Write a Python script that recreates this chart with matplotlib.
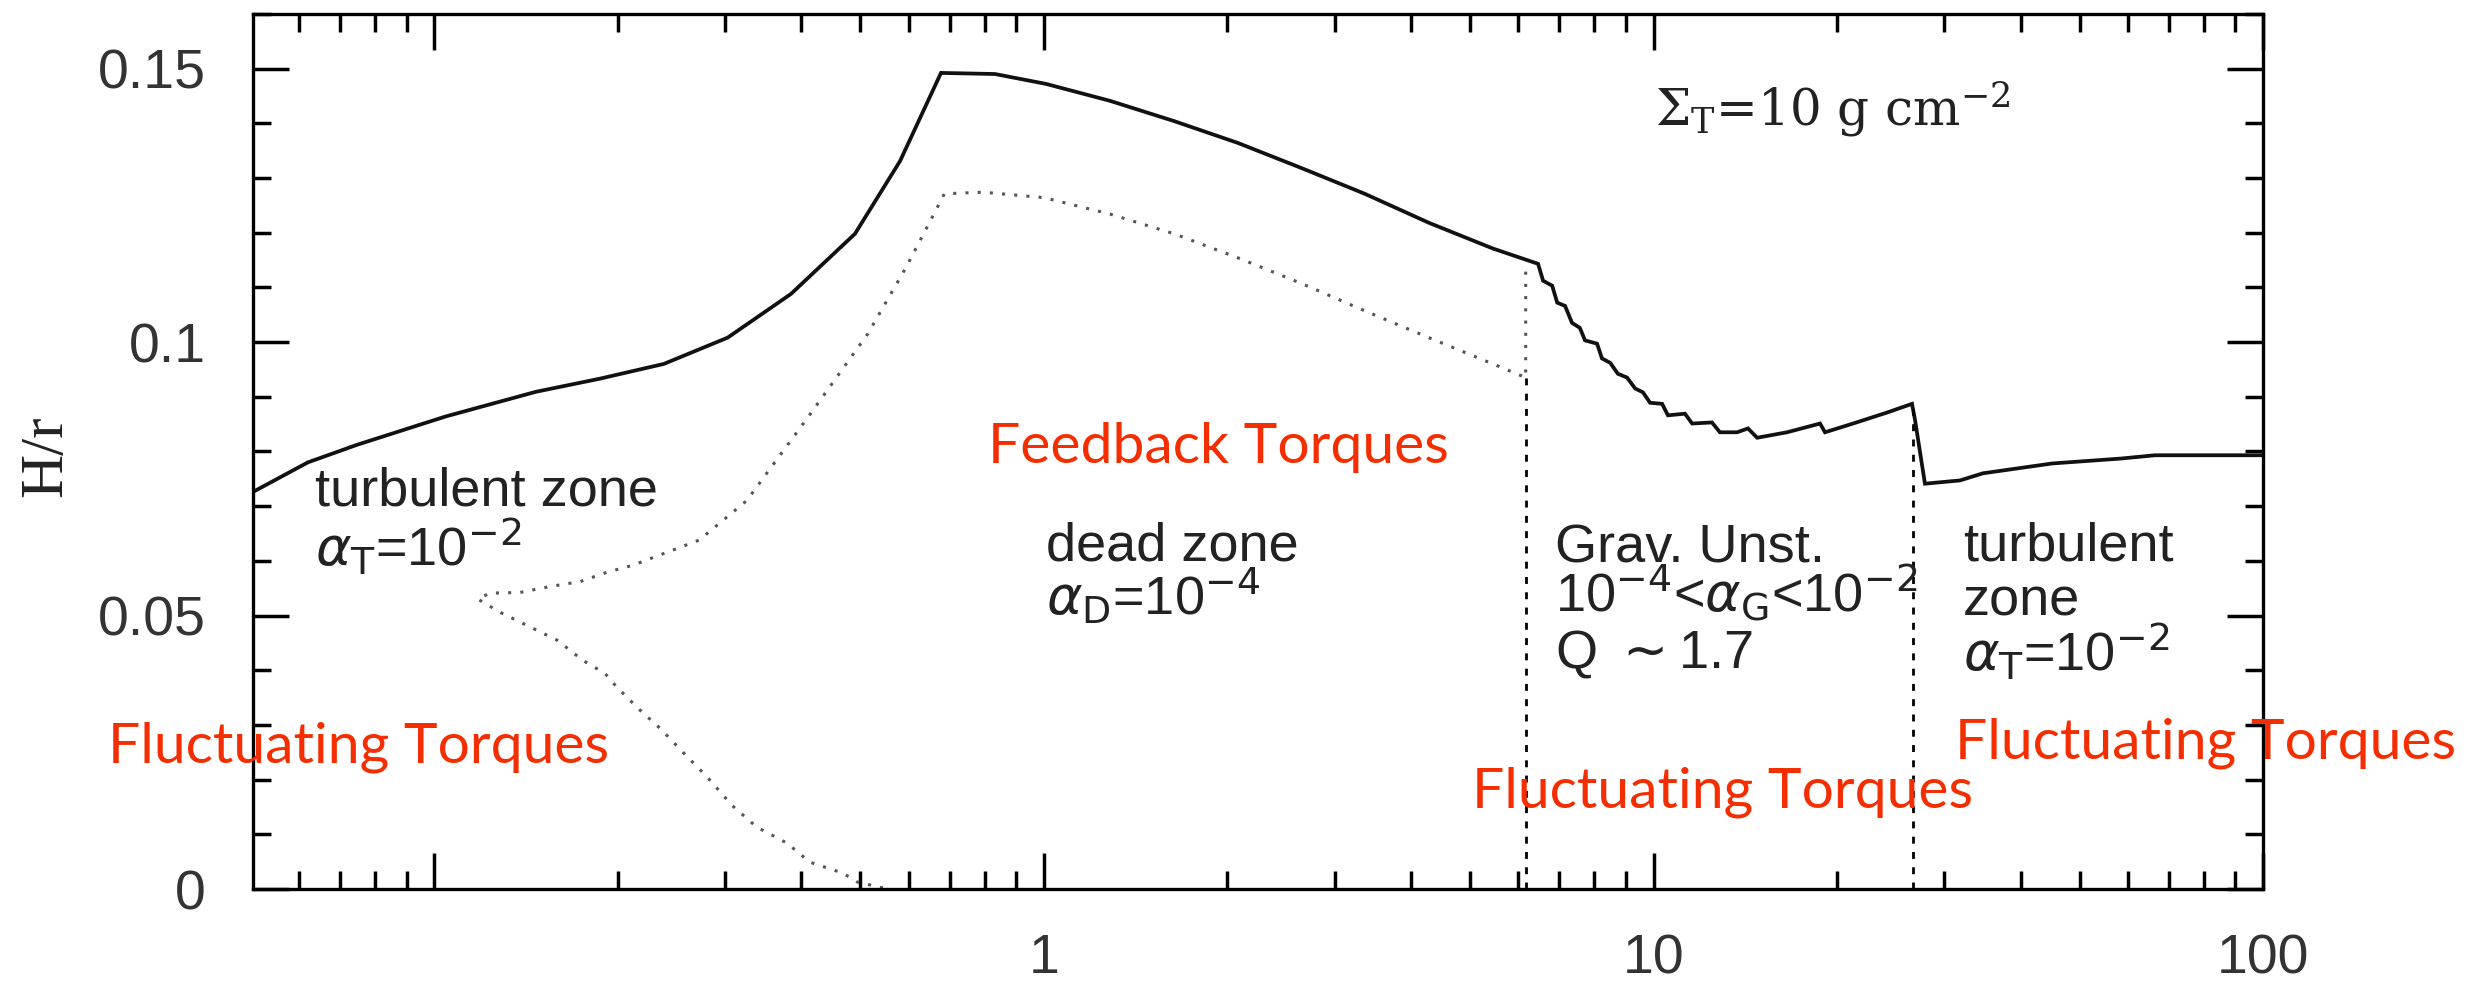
import matplotlib

matplotlib.use("Agg")
import matplotlib.pyplot as plt
from matplotlib.ticker import FixedLocator, FixedFormatter, LogLocator, MultipleLocator, NullFormatter

# solid curve: disk aspect ratio H/r against radius (AU)
solid_r = [0.0504, 0.062, 0.0746, 0.1044, 0.1467, 0.1868, 0.2379, 0.3027, 0.3846, 0.4898,
           0.5807, 0.6777, 0.831, 1.007, 1.283, 1.634, 2.08, 2.646, 3.36, 4.28, 5.45,
           6.465, 6.59, 6.82, 6.95, 7.16, 7.35, 7.57, 7.72, 8.08, 8.23, 8.49, 8.74, 9.05,
           9.33, 9.61, 9.87, 10.33, 10.56, 11.26, 11.57, 12.47, 12.85, 13.71, 14.29, 14.79,
           16.56, 18.76, 19.11, 21.25, 24.15, 26.55, 26.86, 27.88, 31.84, 34.7, 45.1, 58.5,
           66.5, 100.0]
solid_h = [0.0726, 0.078, 0.0812, 0.0864, 0.0909, 0.0933, 0.096, 0.1008, 0.1088, 0.1198,
           0.1331, 0.1492, 0.149, 0.1472, 0.1441, 0.1404, 0.1364, 0.1318, 0.1271, 0.1218, 0.1171,
           0.1143, 0.1112, 0.1103, 0.1072, 0.1066, 0.1035, 0.1026, 0.1003, 0.0997, 0.097, 0.0962,
           0.0942, 0.0935, 0.0915, 0.0908, 0.0889, 0.0887, 0.0866, 0.0869, 0.0851, 0.0853,
           0.0835, 0.0835, 0.0842, 0.0825, 0.0835, 0.0851, 0.0835, 0.0851, 0.0871, 0.0887,
           0.0857, 0.0741, 0.0747, 0.076, 0.0778, 0.0787, 0.0793, 0.0793]

# dotted curve (dead zone surface)
dot_r = [0.5442, 0.4933, 0.468, 0.4131, 0.3787, 0.338, 0.3077, 0.28, 0.2557, 0.2344,
         0.2174, 0.1992, 0.1905, 0.1752, 0.1589, 0.1418, 0.1281, 0.1178, 0.1233, 0.138,
         0.1547, 0.1733, 0.1919, 0.2117, 0.272, 0.3253, 0.414, 0.514, 0.5936, 0.6865,
         0.7934, 1.0, 1.283, 1.634, 2.08, 2.646, 3.36, 4.28, 5.45, 6.17, 6.17]
dot_h = [0.0002, 0.0013, 0.0029, 0.0049, 0.0084, 0.0113, 0.0153, 0.0205, 0.025, 0.0294,
         0.0327, 0.0369, 0.0394, 0.0418, 0.0455, 0.0482, 0.0506, 0.053, 0.0541, 0.0542,
         0.0553, 0.0562, 0.0579, 0.0592, 0.0638, 0.071, 0.0869, 0.1015, 0.1136, 0.1271,
         0.1274, 0.1264, 0.1234, 0.1198, 0.1154, 0.1107, 0.1057, 0.1008, 0.096, 0.0935, 0.1145]

# zone boundaries (dashed verticals)
bound_r = [6.17, 26.7]
bound_top = [0.0935, 0.0887]

ytick_vals = [0, 0.05, 0.1, 0.15]
ytick_labels = ["0", "0.05", "0.1", "0.15"]
xtick_vals = [0.1, 1, 10, 100]
xtick_labels = ["", "1", "10", "100"]

SANS = ["Liberation Sans", "DejaVu Sans"]
RED = "#f42e00"

fig = plt.figure(figsize=(24.76, 9.82), dpi=100)
ax = fig.add_axes([0.1022, 0.0947, 0.8118, 0.8912])

ax.plot(solid_r, solid_h, color="#111111", lw=2.7, solid_joinstyle="miter")
ax.plot(dot_r, dot_h, color="#555555", lw=2.2, linestyle=(0, (1, 3)))
for r, top in zip(bound_r, bound_top):
    ax.plot([r, r], [0, top], color="black", lw=2.0, linestyle=(0, (2.5, 3)))

ax.set_xscale("log")
ax.set_xlim(0.0504, 100)
ax.set_ylim(0, 0.16)

ax.xaxis.set_major_locator(FixedLocator(xtick_vals))
ax.xaxis.set_major_formatter(FixedFormatter(xtick_labels))
ax.xaxis.set_minor_locator(LogLocator(base=10, subs=range(2, 10)))
ax.xaxis.set_minor_formatter(NullFormatter())
ax.yaxis.set_major_locator(FixedLocator(ytick_vals))
ax.yaxis.set_major_formatter(FixedFormatter(ytick_labels))
ax.yaxis.set_minor_locator(MultipleLocator(0.01))

ax.tick_params(which="both", direction="in", top=True, right=True, width=2.5, color="black")
ax.tick_params(which="major", length=26)
ax.tick_params(which="minor", length=13)
ax.tick_params(axis="x", which="major", pad=32, labelsize=40, labelcolor="#333333")
ax.tick_params(axis="y", which="major", pad=34, labelsize=40, labelcolor="#333333")
for lab in ax.get_xticklabels() + ax.get_yticklabels():
    lab.set_family(SANS)
for sp in ax.spines.values():
    sp.set_linewidth(2.4)

ax.set_ylabel("H/r", family=["Liberation Serif", "DejaVu Serif"], fontsize=44, color="#222222")
ax.yaxis.set_label_coords(-0.089, 0.494)

# zone annotations
txt = dict(family=SANS, fontsize=39, color="#222222", math_fontfamily="dejavusans",
           ha="left", va="baseline")
ax.text(0.0637, 0.0701, "turbulent zone", **txt)
ax.text(0.0637, 0.0592, r"$\alpha_{\rm T}$=10$^{-2}$", **txt)
ax.text(1.0076, 0.0601, "dead zone", **txt)
ax.text(1.0076, 0.0500, r"$\alpha_{\rm D}$=10$^{-4}$", **txt)
ax.text(6.89, 0.0597, "Grav. Unst.", **txt)
ax.text(6.89, 0.0506, r"10$^{-4}$<$\alpha_{\rm G}$<10$^{-2}$", **txt)
ax.text(6.89, 0.0405, r"Q $\sim$1.7", **txt)
ax.text(32.2, 0.0601, "turbulent", **txt)
ax.text(32.2, 0.0500, "zone", **txt)
ax.text(32.2, 0.0400, r"$\alpha_{\rm T}$=10$^{-2}$", **txt)
ax.text(10.06, 0.1395, r"$\Sigma_{\rm T}$=10 g cm$^{-2}$", family=["DejaVu Serif"],
        math_fontfamily="dejavuserif", fontsize=36, color="#222222", ha="left", va="baseline")

# red overlay labels
red = dict(family=["Lato", "DejaVu Sans"], fontsize=41, color=RED, ha="left", va="baseline")
fig.text(0.0436, 0.2240, "Fluctuating Torques", **red)
fig.text(0.3990, 0.5285, "Feedback Torques", **red)
fig.text(0.5945, 0.1772, "Fluctuating Torques", **red)
fig.text(0.7896, 0.2281, "Fluctuating Torques", **red)

fig.savefig("out.png", dpi=100)
